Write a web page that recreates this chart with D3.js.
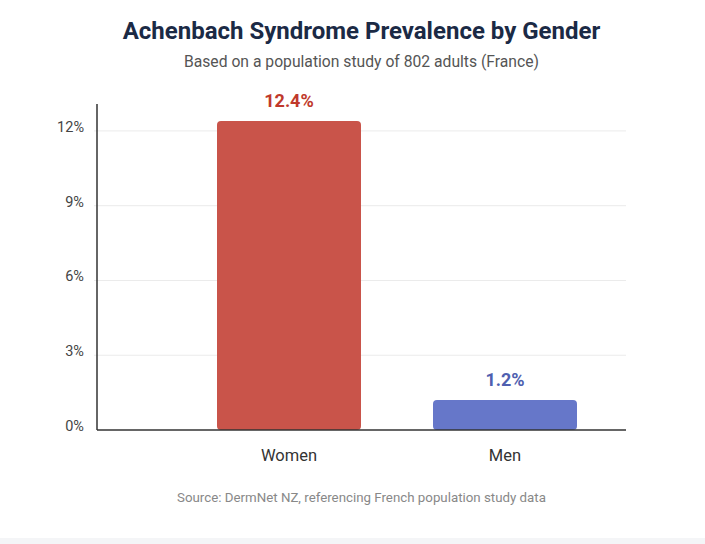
<!DOCTYPE html>
<html>
<head>
<meta charset="utf-8">
<script src="https://cdn.jsdelivr.net/npm/d3@7"></script>
<style>
  html, body { margin: 0; padding: 0; background: #f4f5f7; }
  #chart { width: 705px; height: 538px; background: #fff; }
  svg { display: block; font-family: Roboto, "Noto Sans", sans-serif; }
</style>
</head>
<body>
<div id="chart"></div>
<script>
// data
const categories = ['Women', 'Men'];
const values = [12.4, 1.2];
const valueLabels = ['12.4%', '1.2%'];
const barColors = ['#c9544a', '#6677c9'];
const labelColors = ['#c0392b', '#4f5fb0'];
const yTicks = [0, 3, 6, 9, 12];

const width = 705;
const height = 538;
const plotLeft = 97;
const plotRight = 626;
const plotBottom = 430;
const plotTop = 104;

const svg = d3.select('#chart')
  .append('svg')
  .attr('width', width)
  .attr('height', height);

const y = d3.scaleLinear()
  .domain([0, 13.08])
  .range([plotBottom, plotTop]);

const x = d3.scaleBand()
  .domain(categories)
  .range([181, 613])
  .paddingInner(1 / 3)
  .paddingOuter(1 / 6);

// titles
svg.append('text')
  .attr('x', (plotLeft + plotRight) / 2)
  .attr('y', 39)
  .attr('text-anchor', 'middle')
  .style('font-size', '24px')
  .style('font-weight', 700)
  .style('fill', '#1b2a45')
  .text('Achenbach Syndrome Prevalence by Gender');

svg.append('text')
  .attr('x', (plotLeft + plotRight) / 2)
  .attr('y', 67)
  .attr('text-anchor', 'middle')
  .style('font-size', '15.7px')
  .style('fill', '#555')
  .text('Based on a population study of 802 adults (France)');

// grid
svg.append('g')
  .selectAll('line')
  .data(yTicks.filter(d => d > 0))
  .enter()
  .append('line')
  .attr('x1', plotLeft - 3)
  .attr('x2', plotRight)
  .attr('y1', d => y(d))
  .attr('y2', d => y(d))
  .style('stroke', '#ebebeb')
  .style('stroke-width', 1);

// tick labels
svg.append('g')
  .selectAll('text')
  .data(yTicks)
  .enter()
  .append('text')
  .attr('x', 84)
  .attr('y', d => y(d) + 1)
  .attr('text-anchor', 'end')
  .style('font-size', '14.5px')
  .style('fill', '#444')
  .text(d => `${d}%`);

// bars
svg.append('g')
  .selectAll('rect')
  .data(values)
  .enter()
  .append('rect')
  .attr('x', (d, i) => x(categories[i]))
  .attr('y', d => y(d))
  .attr('width', x.bandwidth())
  .attr('height', d => plotBottom - y(d))
  .attr('rx', 4)
  .style('fill', (d, i) => barColors[i]);

// value labels
svg.append('g')
  .selectAll('text')
  .data(values)
  .enter()
  .append('text')
  .attr('x', (d, i) => x(categories[i]) + x.bandwidth() / 2)
  .attr('y', d => y(d) - 14)
  .attr('text-anchor', 'middle')
  .style('font-size', '18px')
  .style('font-weight', 700)
  .style('fill', (d, i) => labelColors[i])
  .text((d, i) => valueLabels[i]);

// axes lines
svg.append('line')
  .attr('x1', plotLeft).attr('x2', plotLeft)
  .attr('y1', plotTop).attr('y2', plotBottom)
  .style('stroke', '#333').style('stroke-width', 1.5);

svg.append('line')
  .attr('x1', plotLeft).attr('x2', plotRight)
  .attr('y1', plotBottom).attr('y2', plotBottom)
  .style('stroke', '#333').style('stroke-width', 1.5);

// category labels
svg.append('g')
  .selectAll('text')
  .data(categories)
  .enter()
  .append('text')
  .attr('x', d => x(d) + x.bandwidth() / 2)
  .attr('y', 461)
  .attr('text-anchor', 'middle')
  .style('font-size', '16.5px')
  .style('fill', '#333')
  .text(d => d);

svg.append('text')
  .attr('x', (plotLeft + plotRight) / 2)
  .attr('y', 502)
  .attr('text-anchor', 'middle')
  .style('font-size', '13.3px')
  .style('fill', '#888')
  .text('Source: DermNet NZ, referencing French population study data');
</script>
</body>
</html>
